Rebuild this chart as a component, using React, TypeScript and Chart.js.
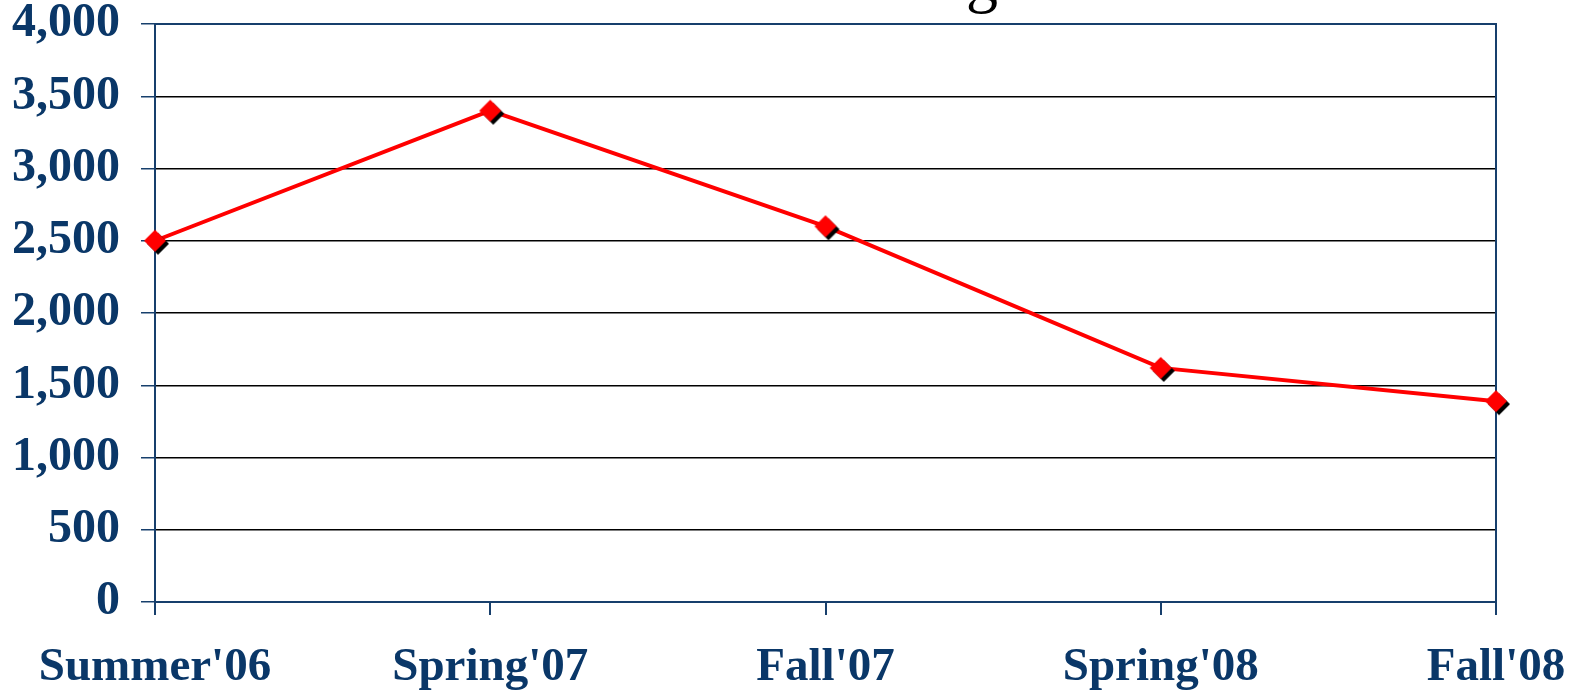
import React, { useEffect, useRef } from "react";
import { Chart, registerables } from "chart.js";

Chart.register(...registerables);

const categories = ["Summer'06", "Spring'07", "Fall'07", "Spring'08", "Fall'08"];
const values = [2500, 3400, 2600, 1620, 1390];
const yTicks = [0, 500, 1000, 1500, 2000, 2500, 3000, 3500, 4000];

const NAVY = "#0a3768";
const AXIS = "#173f6c";

function makeMarker(): HTMLCanvasElement {
  const c = document.createElement("canvas");
  c.width = 32;
  c.height = 32;
  const g = c.getContext("2d")!;
  const diamond = (cx: number, cy: number, r: number, col: string) => {
    g.beginPath();
    g.moveTo(cx, cy - r);
    g.lineTo(cx + r, cy);
    g.lineTo(cx, cy + r);
    g.lineTo(cx - r, cy);
    g.closePath();
    g.fillStyle = col;
    g.fill();
  };
  diamond(19, 19, 11, "#000000");
  diamond(16, 16, 11, "#ff0000");
  return c;
}

const titlePlugin = {
  id: "partialTitle",
  afterDraw(chart: any) {
    const ctx = chart.ctx;
    ctx.save();
    ctx.fillStyle = "#000";
    ctx.font = "64px 'Liberation Serif'";
    ctx.textAlign = "center";
    ctx.textBaseline = "alphabetic";
    ctx.fillText("g", 982, 0);
    ctx.restore();
  },
};

const borderPlugin = {
  id: "frameBorder",
  beforeDatasetsDraw(chart: any) {
    const { ctx, chartArea } = chart;
    ctx.save();
    ctx.strokeStyle = AXIS;
    ctx.lineWidth = 2;
    ctx.beginPath();
    ctx.moveTo(chartArea.left, chartArea.top);
    ctx.lineTo(chartArea.right, chartArea.top);
    ctx.lineTo(chartArea.right, chartArea.bottom);
    ctx.stroke();
    ctx.restore();
  },
};

export default function App() {
  const ref = useRef<HTMLCanvasElement>(null);
  useEffect(() => {
    if (!ref.current) return;
    const marker = makeMarker();
    const yFont = { family: "'Liberation Serif', 'Times New Roman', serif", size: 48, weight: "bold" as const };
    const xFont = { family: "'Liberation Serif', 'Times New Roman', serif", size: 47, weight: "bold" as const };
    const chart = new Chart(ref.current, {
      type: "line",
      data: {
        labels: categories,
        datasets: [
          {
            data: values,
            borderColor: "#ff0000",
            borderWidth: 4,
            pointStyle: marker as any,
            pointRadius: 11,
            tension: 0,
            clip: false as any,
          },
        ],
      },
      plugins: [borderPlugin, titlePlugin],
      options: {
        animation: false,
        responsive: true,
        maintainAspectRatio: false,
        layout: { padding: { left: 0, right: 83, top: 24, bottom: 0 } },
        plugins: { legend: { display: false }, tooltip: { enabled: false }, title: { display: false } },
        scales: {
          x: {
            offset: false,
            afterFit: (s: any) => {
              s.height = 88;
              s.paddingLeft = 0;
              s.paddingRight = 0;
            },
            border: { display: true, color: AXIS, width: 2 },
            grid: { drawOnChartArea: false, drawTicks: true, tickLength: 13, tickColor: AXIS, lineWidth: 2 },
            ticks: { color: NAVY, font: xFont, padding: 25, maxRotation: 0, autoSkip: false },
          },
          y: {
            min: 0,
            max: 4000,
            afterFit: (s: any) => {
              s.width = 155;
              s.paddingTop = 0;
              s.paddingBottom = 0;
            },
            afterBuildTicks: (s: any) => {
              s.ticks = yTicks.map((v) => ({ value: v }));
            },
            border: { display: true, color: AXIS, width: 2 },
            grid: {
              color: (c: any) => (c.tick && c.tick.value === 4000 ? AXIS : "#000000"),
              lineWidth: 1.5,
              tickLength: 14,
              tickColor: AXIS,
            },
            ticks: {
              color: NAVY,
              font: yFont,
              padding: 21,
              callback: (v: any) => Number(v).toLocaleString("en-US"),
            },
          },
        },
      },
    });
    return () => chart.destroy();
  }, []);
  return (
    <div style={{ position: "fixed", left: 0, top: 0, width: 1579, height: 690, background: "#fff" }}>
      <canvas ref={ref} />
    </div>
  );
}
